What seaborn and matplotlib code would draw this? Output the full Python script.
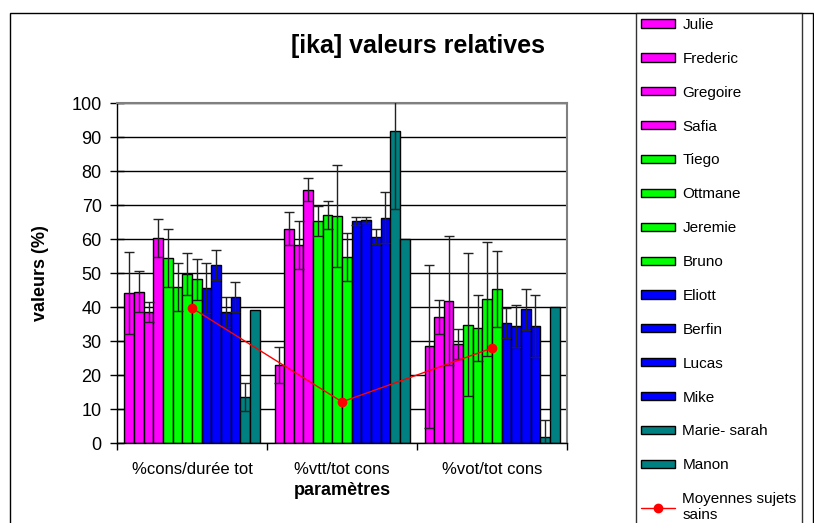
"""
[ika] valeurs relatives - barres par sujet avec écarts-types
et moyennes des sujets sains.
"""

import numpy as np
import pandas as pd
import matplotlib

matplotlib.use("Agg")
import matplotlib.pyplot as plt
from matplotlib.patches import Patch, Rectangle
from matplotlib.lines import Line2D
from matplotlib.ticker import FixedLocator
import seaborn as sns

# Données
parametres = ["%cons/durée tot", "%vtt/tot cons", "%vot/tot cons"]
sujets = [
    "Julie", "Frederic", "Gregoire", "Safia",
    "Tiego", "Ottmane", "Jeremie", "Bruno",
    "Eliott", "Berfin", "Lucas", "Mike",
    "Marie- sarah", "Manon",
]
couleurs = (["#FF00FF"] * 4 + ["#00FF00"] * 4 + ["#0000FF"] * 4
            + ["#008080"] * 2)

cons_duree = [44.1, 44.5, 38.5, 60.4, 54.4, 45.9, 49.7, 48.2,
              45.6, 52.3, 38.5, 42.9, 13.6, 39.0]
vtt_cons = [22.9, 63.0, 58.3, 74.5, 65.3, 67.0, 66.7, 54.7,
            65.2, 65.6, 60.6, 66.3, 91.9, 59.9]
vot_cons = [28.5, 37.0, 41.9, 29.2, 34.8, 33.8, 42.3, 45.3,
            35.2, 34.4, 39.3, 34.4, 1.8, 39.9]

err_cons_duree = [12.0, 6.0, 3.0, 5.6, 8.6, 7.0, 6.3, 6.0,
                  7.4, 4.4, 4.5, 4.5, 4.1, np.nan]
err_vtt_cons = [5.2, 4.9, 7.0, 3.3, 4.4, 4.2, 15.0, 7.0,
                1.2, 1.0, 2.2, 7.4, 23.0, np.nan]
err_vot_cons = [24.0, 5.0, 19.0, 4.4, 21.0, 9.8, 16.7, 11.2,
                4.4, 6.3, 6.1, 9.2, 5.0, np.nan]

moyennes_sains = [39.7, 12.1, 27.9]

valeurs = [cons_duree, vtt_cons, vot_cons]
erreurs = [err_cons_duree, err_vtt_cons, err_vot_cons]

rows = []
for p, vals, errs in zip(parametres, valeurs, erreurs):
    for s, v, e in zip(sujets, vals, errs):
        rows.append({"parametre": p, "sujet": s, "valeur": v, "erreur": e})
df = pd.DataFrame(rows)

sns.set_theme(style="white")
plt.rcParams["font.family"] = ["Liberation Sans", "DejaVu Sans"]
plt.rcParams["text.color"] = "black"
plt.rcParams["axes.labelcolor"] = "black"
plt.rcParams["xtick.color"] = "black"
plt.rcParams["ytick.color"] = "black"

fig = plt.figure(figsize=(8.14, 5.23), dpi=100)
ax = fig.add_axes([117 / 814, 80 / 523, 450 / 814, 340 / 523])

sns.barplot(
    data=df, x="parametre", y="valeur", hue="sujet",
    order=parametres, hue_order=sujets, palette=couleurs,
    width=0.9, edgecolor="black", linewidth=1, saturation=1,
    errorbar=None, legend=False, ax=ax,
)

# écarts-types (style Excel, coupés au cadre du graphique)
for cont, s in zip(ax.containers, sujets):
    sub = df[df["sujet"] == s].set_index("parametre").loc[parametres]
    for bar, v, e in zip(cont.patches, sub["valeur"], sub["erreur"]):
        if np.isnan(e):
            continue
        xc = bar.get_x() + bar.get_width() / 2
        ax.errorbar(xc, v, yerr=e, fmt="none", ecolor="#222222",
                    elinewidth=1, capsize=3.3, capthick=1,
                    clip_on=True, zorder=4)

# moyennes sujets sains
ax.plot(range(len(parametres)), moyennes_sains, color="red", lw=1,
        marker="o", markersize=6, zorder=5)

ax.set_ylim(0, 100)
ax.set_xlim(-0.5, 2.5)
ax.set_yticks(np.arange(0, 101, 10))
ax.yaxis.grid(True, color="black", lw=1)
ax.set_axisbelow(True)
ax.tick_params(axis="y", direction="inout", length=10, width=1,
               labelsize=13, pad=6, left=True)
ax.tick_params(axis="x", which="major", length=0, labelsize=12, pad=14)
ax.xaxis.set_minor_locator(FixedLocator([-0.5, 0.5, 1.5, 2.5]))
ax.tick_params(axis="x", which="minor", direction="out", length=5,
               width=1, bottom=True, color="black")

for side in ["left", "bottom"]:
    ax.spines[side].set_color("black")
    ax.spines[side].set_linewidth(1)
for side in ["top", "right"]:
    ax.spines[side].set_color("#808080")
    ax.spines[side].set_linewidth(1.5)

fig.text(418 / 814, 1 - 46 / 523, "[ika] valeurs relatives", fontsize=18,
         fontweight="bold", ha="center", va="center")
ax.set_ylabel("valeurs (%)", fontsize=13, fontweight="bold", labelpad=16)
ax.set_xlabel("paramètres", fontsize=13, fontweight="bold", labelpad=3)

# légende
handles = [Patch(facecolor=c, edgecolor="black", lw=1) for c in couleurs]
handles.append(Line2D([0], [0], color="red", lw=1, marker="o",
                      markersize=6))
labels = sujets + ["Moyennes sujets\nsains"]
leg = fig.legend(
    handles, labels, loc="upper left",
    bbox_to_anchor=(636 / 814, 1 - 13 / 523),
    fontsize=11, frameon=True, fancybox=False, edgecolor="black",
    handlelength=2.2, handleheight=0.45, handletextpad=0.5,
    labelspacing=1.30, borderpad=0.33, borderaxespad=0,
)
leg.get_frame().set_linewidth(1)

# cadre du graphique
fig.add_artist(Rectangle((10 / 814, -0.02), 803 / 814, 1 - 13 / 523 + 0.02,
                         transform=fig.transFigure, fill=False,
                         edgecolor="black", lw=1))

fig.savefig("out.png", dpi=100)
